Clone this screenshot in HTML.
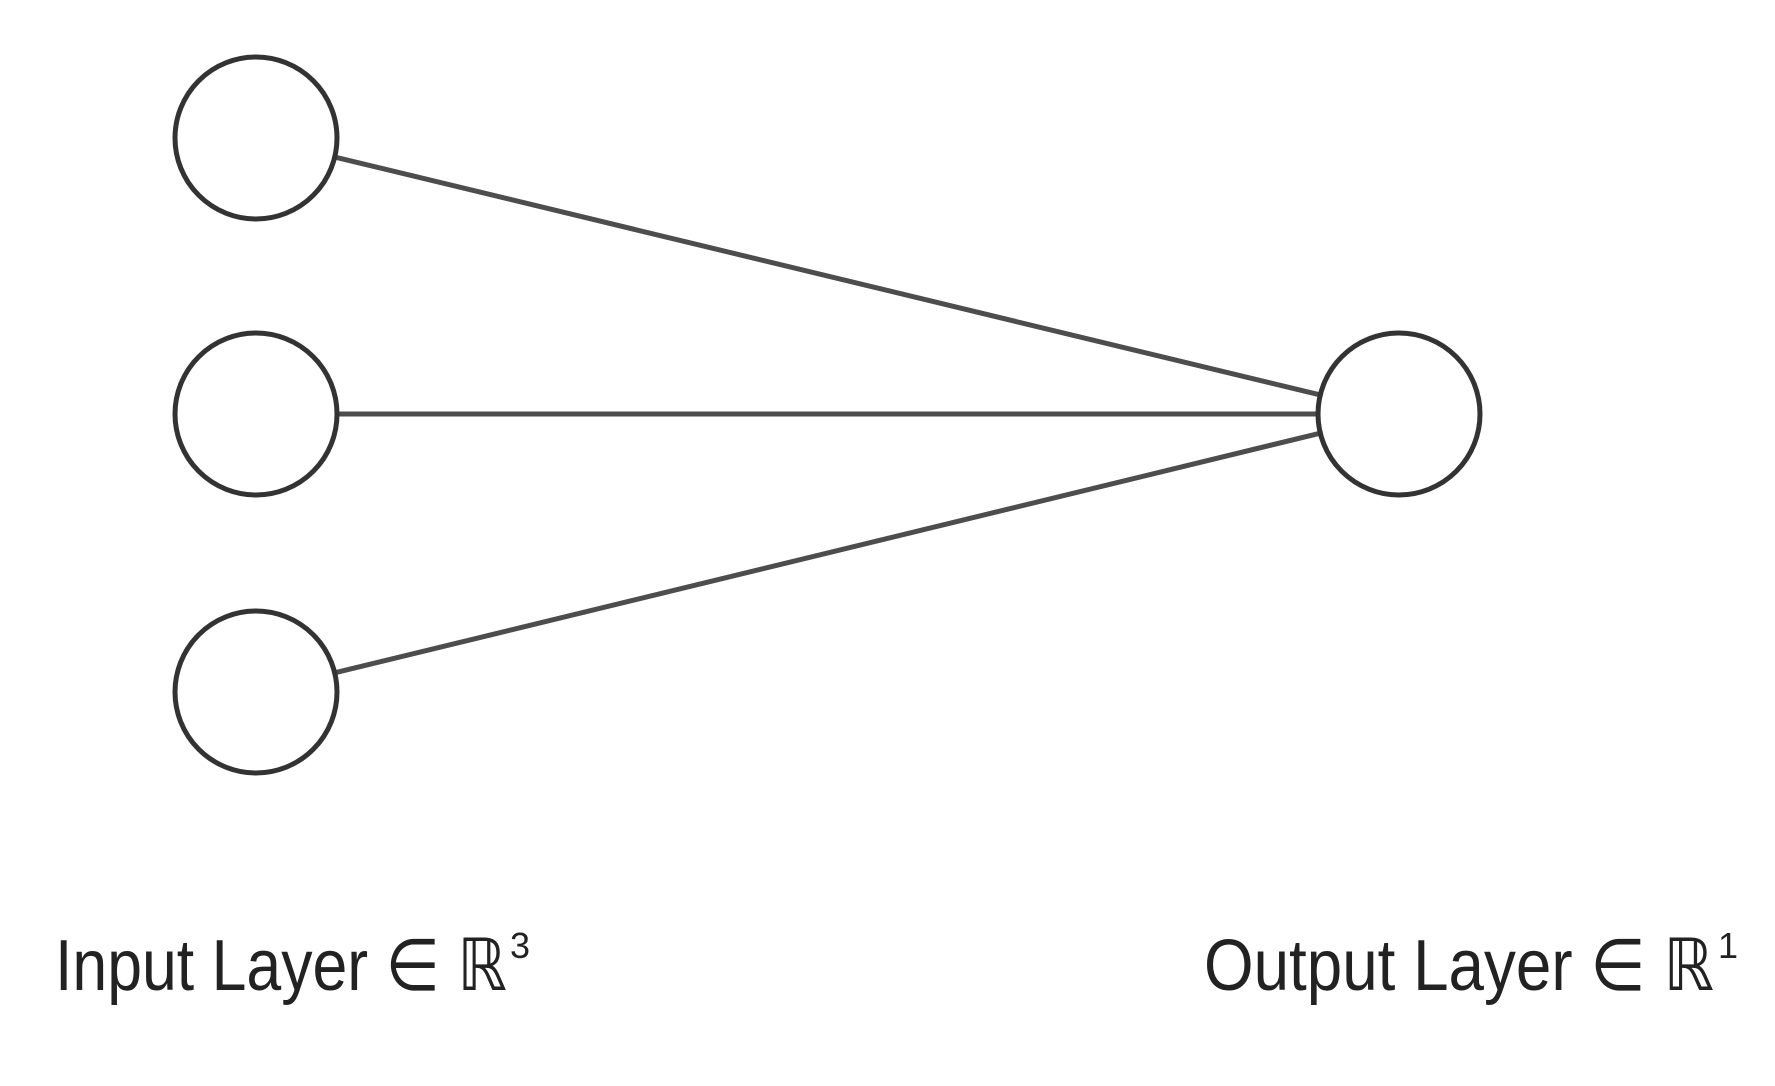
<!DOCTYPE html>
<html><head><meta charset="utf-8"><style>
html,body{margin:0;padding:0;background:#fff;}
svg{display:block;}
text{font-family:"Liberation Sans","DejaVu Sans",sans-serif;fill:#222;}
</style></head><body>
<svg id="net" width="1775" height="1086" viewBox="0 0 1775 1086" xmlns="http://www.w3.org/2000/svg">
<g id="edges"></g>
<g id="nodes"></g>
<text x="55" y="990" font-size="72" textLength="452" lengthAdjust="spacingAndGlyphs">Input Layer ∈ ℝ</text>
<text x="510" y="958" font-size="36">3</text>
<text x="1204" y="990" font-size="72" textLength="510" lengthAdjust="spacingAndGlyphs">Output Layer ∈ ℝ</text>
<text x="1718" y="958" font-size="36">1</text>
</svg>
<script>
const inputY = [138, 414, 692];
const outputY = [414];
const inputX = 256, outputX = 1399, R = 81;
const NS = "http://www.w3.org/2000/svg";
const edges = document.getElementById('edges');
const nodes = document.getElementById('nodes');
inputY.forEach((y1, i) => {
  outputY.forEach((y2, j) => {
    const dx = outputX - inputX, dy = y2 - y1, L = Math.hypot(dx, dy);
    const ux = dx / L, uy = dy / L;
    const l = document.createElementNS(NS, 'line');
    l.setAttribute('x1', inputX + ux * R); l.setAttribute('y1', y1 + uy * R);
    l.setAttribute('x2', outputX - ux * R); l.setAttribute('y2', y2 - uy * R);
    l.setAttribute('stroke', '#4d4d4d'); l.setAttribute('stroke-width', '5');
    
    
    edges.appendChild(l);
  });
});
function node(x, y, name) {
  const c = document.createElementNS(NS, 'circle');
  c.setAttribute('cx', x); c.setAttribute('cy', y); c.setAttribute('r', R);
  c.setAttribute('fill', '#fff'); c.setAttribute('stroke', '#333'); c.setAttribute('stroke-width', '5');
  
  
  nodes.appendChild(c);
}
inputY.forEach((y) => node(inputX, y, 'input-neuron'));
outputY.forEach((y) => node(outputX, y, 'output-neuron'));
</script>
</body></html>
